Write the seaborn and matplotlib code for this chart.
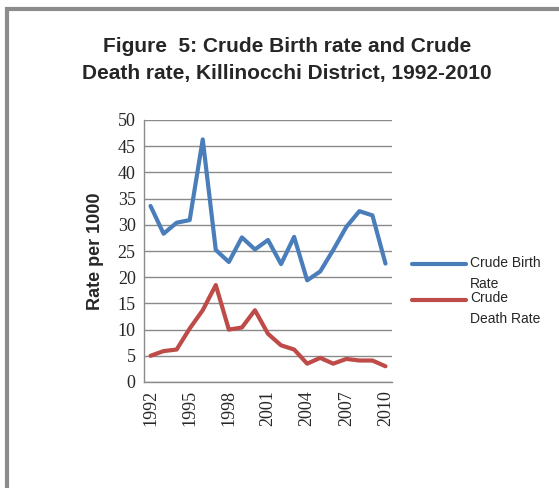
import matplotlib
matplotlib.use("Agg")
import matplotlib.pyplot as plt
import seaborn as sns
import pandas as pd
from matplotlib.patches import Rectangle
from matplotlib.legend_handler import HandlerLine2D

years = list(range(1992, 2011))
birth_rate = [33.6, 28.3, 30.4, 30.9, 46.3, 25.2, 22.9, 27.6, 25.3, 27.1,
              22.5, 27.7, 19.4, 21.1, 25.2, 29.6, 32.6, 31.8, 22.6]
death_rate = [5.0, 5.9, 6.2, 10.2, 13.7, 18.5, 10.0, 10.4, 13.7, 9.2,
              7.0, 6.2, 3.5, 4.6, 3.5, 4.4, 4.1, 4.1, 3.0]
series_names = ["Crude Birth\nRate", "Crude\nDeath Rate"]
tick_years = [1992, 1995, 1998, 2001, 2004, 2007, 2010]
yticks = [0, 5, 10, 15, 20, 25, 30, 35, 40, 45, 50]

df = pd.DataFrame({
    "Year": years * 2,
    "Rate": birth_rate + death_rate,
    "Series": [series_names[0]] * len(years) + [series_names[1]] * len(years),
})


class TopLineHandler(HandlerLine2D):
    def create_artists(self, legend, orig_handle, xdescent, ydescent,
                       width, height, fontsize, trans):
        return super().create_artists(legend, orig_handle, xdescent,
                                      ydescent - 14, width, height,
                                      fontsize, trans)


sns.set_theme(style="white")
fig = plt.figure(figsize=(5.59, 4.88), dpi=100)
fig.patches.append(Rectangle((7 / 559, -0.1), 1.2, 1 - 9 / 488 + 0.1,
                             transform=fig.transFigure, fill=False,
                             edgecolor="#8c8c8c", linewidth=3, zorder=0))

ax = fig.add_axes([144 / 559, 1 - 382 / 488, (392 - 144) / 559, (382 - 120) / 488])
palette = {series_names[0]: "#4A7EBB", series_names[1]: "#BE4B48"}
sns.lineplot(data=df, x="Year", y="Rate", hue="Series", palette=palette,
             linewidth=3.0, ax=ax, legend=True)

ax.set_xlim(1991.5, 2010.5)
ax.set_ylim(0, 50)
ax.set_yticks(yticks)
ax.set_xticks(tick_years)
ax.set_xticklabels([str(y) for y in tick_years], rotation=90,
                   family="Liberation Serif", fontsize=13)
ax.set_yticklabels([str(v) for v in yticks], family="Liberation Serif", fontsize=13)
ax.tick_params(axis="both", length=0, pad=6)
ax.grid(axis="y", color="#8a8a8a", linewidth=1)
ax.set_axisbelow(True)
for s in ["top", "right"]:
    ax.spines[s].set_visible(False)
for s in ["left", "bottom"]:
    ax.spines[s].set_color("#8a8a8a")
    ax.spines[s].set_linewidth(1)
ax.set_xlabel("")
ax.set_ylabel("Rate per 1000", family="Liberation Sans", fontweight="bold",
              fontsize=13, labelpad=10)

handles, labels = ax.get_legend_handles_labels()
leg = ax.legend(handles, labels, loc="center left", bbox_to_anchor=(1.03, 0.347),
                frameon=False, prop={"family": "Liberation Sans", "size": 10},
                handlelength=3.9, handletextpad=0.3, labelspacing=0.05,
                handler_map={h: TopLineHandler() for h in handles})
for line in leg.get_lines():
    line.set_linewidth(3.0)
for t in leg.get_texts():
    t.set_linespacing(1.6)

fig.text(287 / 559, 1 - 47 / 488, "Figure  5: Crude Birth rate and Crude",
         ha="center", va="center", family="Liberation Sans", fontweight="bold",
         fontsize=15)
fig.text(287 / 559, 1 - 74 / 488, "Death rate, Killinocchi District, 1992-2010",
         ha="center", va="center", family="Liberation Sans", fontweight="bold",
         fontsize=15)

fig.savefig("out.png", dpi=100, facecolor="white")
